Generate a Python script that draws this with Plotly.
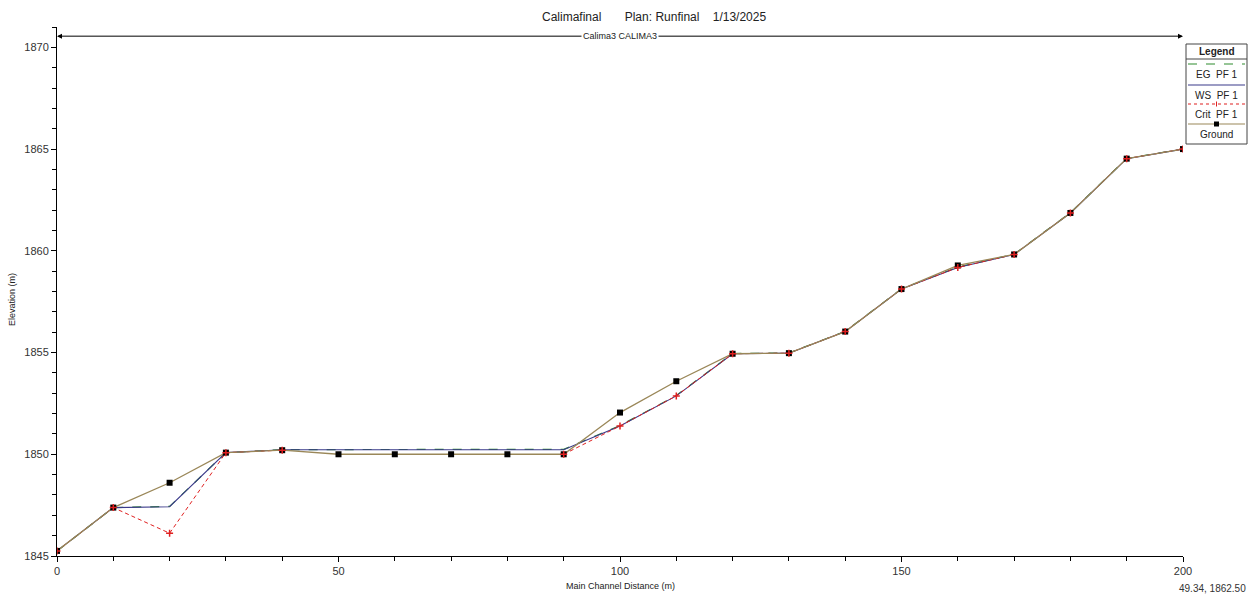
import plotly.graph_objects as go

# ---- data ----
distance = [0, 10, 20, 30, 40, 50, 60, 70, 80, 90, 100, 110, 120, 130, 140, 150, 160, 170, 180, 190, 200]
ground = [1845.25, 1847.38, 1848.60, 1850.08, 1850.20, 1850.00, 1850.00, 1850.00, 1850.00, 1850.00,
          1852.05, 1853.59, 1854.94, 1854.97, 1856.03, 1858.12, 1859.28, 1859.82, 1861.86, 1864.53, 1865.00]
ws_pf1 = [1845.25, 1847.38, 1847.42, 1850.08, 1850.22, 1850.22, 1850.22, 1850.22, 1850.22, 1850.22,
          1851.39, 1852.87, 1854.94, 1854.97, 1856.03, 1858.12, 1859.18, 1859.82, 1861.86, 1864.53, 1865.00]
eg_pf1 = [1845.25, 1847.38, 1847.44, 1850.08, 1850.23, 1850.24, 1850.24, 1850.24, 1850.24, 1850.24,
          1851.41, 1852.89, 1854.95, 1854.98, 1856.04, 1858.13, 1859.20, 1859.83, 1861.87, 1864.54, 1865.01]
crit_pf1 = [1845.25, 1847.38, 1846.12, 1850.08, 1850.20, None, None, None, None, 1850.00,
            1851.39, 1852.87, 1854.94, 1854.97, 1856.03, 1858.12, 1859.18, 1859.82, 1861.86, 1864.53, 1865.00]
x_ticks = [0, 50, 100, 150, 200]
y_ticks = [1845, 1850, 1855, 1860, 1865, 1870]
title_text = "Calimafinal       Plan: Runfinal    1/13/2025"
reach_label = "Calima3 CALIMA3"
cursor_text = "49.34, 1862.50"
x_title = "Main Channel Distance (m)"
y_title = "Elevation (m)"

EG_C = "#2e8b2e"
WS_C = "#3a3a8a"
CRIT_C = "#e02020"
GR_C = "#9a8758"

fig = go.Figure()
fig.add_trace(go.Scatter(x=distance, y=eg_pf1, mode="lines", name="EG PF 1",
                         line=dict(color=EG_C, width=1.2, dash="dash")))
fig.add_trace(go.Scatter(x=distance, y=ws_pf1, mode="lines", name="WS PF 1",
                         line=dict(color=WS_C, width=1.1)))
fig.add_trace(go.Scatter(x=distance, y=crit_pf1, mode="lines", name="Crit PF 1",
                         line=dict(color=CRIT_C, width=1, dash="4px,3px"), connectgaps=False))
fig.add_trace(go.Scatter(x=distance, y=ground, mode="lines+markers", name="Ground",
                         line=dict(color=GR_C, width=1.3),
                         marker=dict(symbol="square", size=6, color="black")))
fig.add_trace(go.Scatter(x=distance, y=crit_pf1, mode="markers", name="Crit markers",
                         marker=dict(symbol="cross-thin", size=5, color=CRIT_C,
                                     line=dict(color=CRIT_C, width=1.5))))

L, R, T, B = 57, 68, 27, 38
W, H = 1251, 594
pw, ph = W - L - R, H - T - B

def px(xp):
    return (xp - L) / pw

def py(yp):
    return (H - B - yp) / ph

shapes = []
annotations = []

def text_at(xp, yp, text, size, color="#222", family="Arial", xanchor="center", **kw):
    annotations.append(dict(x=px(xp), y=py(yp), xref="paper", yref="paper", text=text,
                            showarrow=False, xanchor=xanchor, yanchor="middle",
                            font=dict(size=size, color=color, family=family), **kw))

# title
text_at(654, 17, title_text, 12)
# axis titles
text_at(620, 586, x_title, 9)
text_at(12, 300, y_title, 9, textangle=-90)
# reach arrow line
for end in (0, 200):
    annotations.append(dict(x=end, y=1870.55, ax=100, ay=1870.55, xref="x", yref="y", axref="x", ayref="y",
                            text="", showarrow=True, arrowhead=2, arrowsize=1, arrowwidth=1,
                            arrowcolor="black"))
annotations.append(dict(x=100, y=1870.55, xref="x", yref="y", text=reach_label, showarrow=False,
                        xanchor="center", yanchor="middle", bgcolor="white", borderpad=1,
                        font=dict(size=9, color="#222", family="Arial")))

# legend box
lx0, lx1 = px(1186), px(1247)
shapes.append(dict(type="rect", xref="paper", yref="paper", x0=lx0, x1=lx1, y0=py(144), y1=py(44),
                   line=dict(color="#444", width=1), fillcolor="white"))
shapes.append(dict(type="line", xref="paper", yref="paper", x0=lx0, x1=lx1, y0=py(59), y1=py(59),
                   line=dict(color="#444", width=1)))
text_at(1216.5, 51.5, "<b>Legend</b>", 10)
entries = [("EG  PF 1", EG_C, "dash", None, 64, 75),
           ("WS  PF 1", WS_C, "solid", None, 85, 95),
           ("Crit  PF 1", CRIT_C, "dot", "crit", 104, 114),
           ("Ground", GR_C, "solid", "ground", 124, 134)]
for label, col, dash, mk, ly, ty in entries:
    shapes.append(dict(type="line", xref="paper", yref="paper", x0=px(1188), x1=px(1245),
                       y0=py(ly), y1=py(ly), line=dict(color=col, width=1.2, dash=dash)))
    text_at(1216.5, ty, label, 10)
    if mk == "ground":
        shapes.append(dict(type="rect", xref="paper", yref="paper", x0=px(1214), x1=px(1219),
                           y0=py(126.5), y1=py(121.5), fillcolor="black", line=dict(width=0)))
    if mk == "crit":
        shapes.append(dict(type="line", xref="paper", yref="paper", x0=px(1216.5), x1=px(1216.5),
                           y0=py(101.5), y1=py(106.5), line=dict(color=CRIT_C, width=1)))

text_at(1248, 588, cursor_text, 10, color="#333", family="Liberation Sans, Arial", xanchor="right")

fig.update_layout(
    width=W, height=H,
    margin=dict(l=L, r=R, t=T, b=B, pad=0, autoexpand=False),
    paper_bgcolor="white", plot_bgcolor="white",
    showlegend=False,
    font=dict(family="Arial, Liberation Sans", size=11, color="#333"),
    shapes=shapes, annotations=annotations,
    xaxis=dict(range=[0, 200], tickvals=x_ticks, ticks="outside", ticklen=5, tickcolor="black",
               showgrid=False, zeroline=False, showline=True, linecolor="black", linewidth=1,
               automargin=False,
               minor=dict(dtick=10, ticks="outside", ticklen=4, tickcolor="black"),
               tickfont=dict(size=11, color="#333")),
    yaxis=dict(range=[1845, 1871], tickvals=y_ticks, ticks="outside", ticklen=5, tickcolor="black",
               showgrid=False, zeroline=False, showline=True, linecolor="black", linewidth=1,
               automargin=False,
               minor=dict(dtick=1, ticks="outside", ticklen=4, tickcolor="black"),
               tickfont=dict(size=11, color="#333")),
)

fig.write_html("out.html")
